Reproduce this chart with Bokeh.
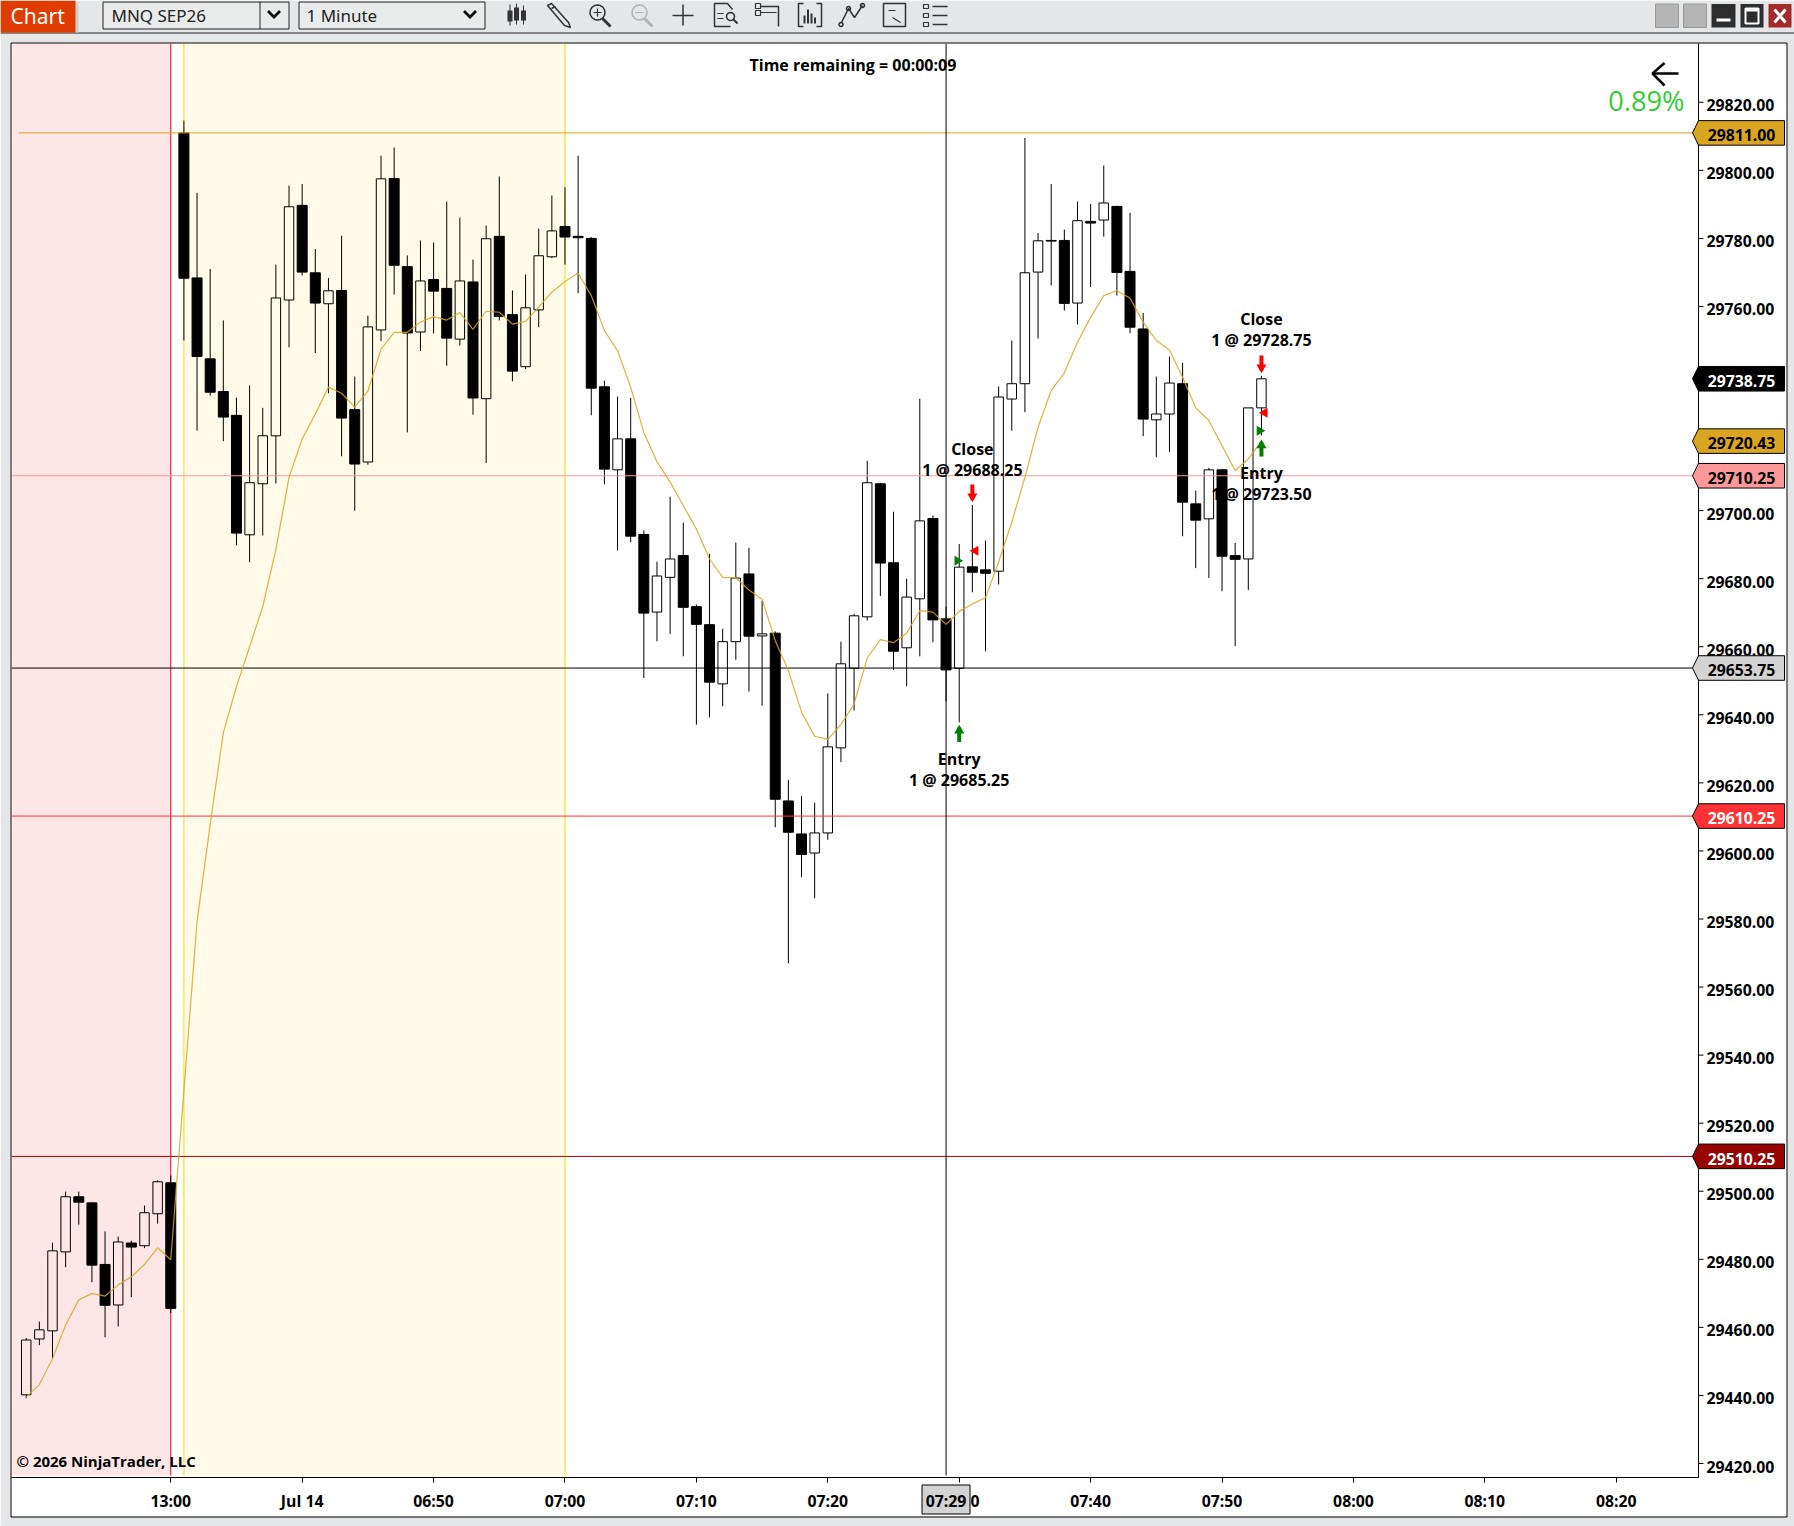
import math
import numpy as np
from bokeh.plotting import figure
from bokeh.embed import file_html
from bokeh.resources import INLINE
from bokeh.core.properties import value
from bokeh.models import FixedTicker, LinearAxis, NumeralTickFormatter, Range1d

# ---------- chart data ----------
opens = [29440.2,29456.6,29459.0,29482.2,29498.4,29496.6,29478.5,29466.6,29484.8,29484.0,29493.4,29502.5,
         29811.0,29768.4,29744.6,29735.0,29728.0,29692.9,29707.9,29722.0,29761.9,29789.7,29769.9,29760.8,
         29764.7,29729.7,29714.3,29753.1,29797.6,29771.7,29752.5,29767.9,29765.3,29750.4,29767.2,29732.9,
         29780.6,29757.6,29742.3,29759.0,29774.6,29783.5,29780.6,29780.0,29736.4,29712.0,29721.1,29693.0,
         29670.2,29680.4,29686.8,29671.8,29666.5,29649.1,29661.5,29681.4,29663.2,29664.0,29614.7,29605.0,
         29599.4,29605.3,29630.3,29653.7,29668.8,29707.9,29684.7,29659.7,29674.1,29697.7,29668.2,29653.7,
         29683.5,29682.6,29682.2,29732.8,29737.3,29770.1,29779.4,29779.4,29761.0,29785.0,29785.4,29789.4,
         29770.3,29753.4,29726.7,29728.4,29737.3,29702.0,29697.6,29712.0,29686.8,29685.8,29730.2]
highs = [29456.9,29461.7,29484.9,29499.9,29499.9,29496.7,29488.2,29486.7,29485.5,29495.8,29503.2,29504.6,
         29814.6,29793.4,29771.0,29755.9,29733.2,29736.8,29730.2,29772.3,29795.5,29796.0,29776.9,29768.4,
         29780.8,29739.4,29757.3,29804.3,29806.7,29775.0,29779.4,29778.8,29790.8,29786.1,29773.8,29783.8,
         29798.2,29764.7,29769.4,29782.9,29792.6,29795.0,29804.3,29780.4,29738.2,29733.5,29733.1,29694.2,
         29685.0,29704.1,29696.5,29672.4,29687.3,29665.3,29690.6,29689.1,29673.6,29664.5,29620.9,29616.2,
         29614.2,29646.3,29661.5,29669.7,29714.7,29708.2,29699.7,29680.0,29732.9,29698.6,29671.8,29690.2,
         29701.7,29691.2,29736.5,29750.0,29809.5,29781.6,29796.0,29782.6,29790.8,29790.1,29801.4,29789.6,
         29787.5,29758.1,29739.4,29745.3,29743.4,29705.9,29712.6,29712.2,29690.5,29730.2,29739.6]
lows = [29439.2,29454.8,29450.8,29477.7,29490.2,29473.3,29457.1,29460.3,29468.9,29483.3,29490.5,29464.2,
        29750.0,29723.5,29733.8,29720.4,29689.8,29684.9,29692.7,29708.0,29748.0,29769.1,29746.3,29734.5,
        29716.0,29700.0,29713.5,29749.8,29763.5,29723.0,29746.9,29752.1,29742.6,29748.5,29728.2,29714.0,
        29755.9,29738.0,29741.6,29753.9,29774.2,29772.3,29763.9,29728.0,29707.7,29688.3,29690.7,29650.8,
        29661.6,29663.8,29657.2,29637.1,29639.3,29642.5,29656.2,29646.8,29642.7,29607.0,29567.0,29592.3,
        29586.1,29603.3,29626.1,29641.3,29667.7,29674.9,29653.2,29648.4,29657.2,29661.3,29644.0,29637.8,
        29676.0,29658.7,29678.3,29723.5,29728.9,29750.6,29766.2,29758.8,29754.7,29765.7,29780.5,29763.2,
        29752.1,29721.9,29715.7,29717.2,29692.5,29683.1,29680.2,29676.3,29660.2,29676.7,29722.1]
closes = [29456.3,29459.3,29482.5,29498.4,29496.8,29478.3,29466.5,29485.1,29483.6,29493.7,29502.8,29465.6,
          29768.3,29745.3,29734.8,29727.5,29693.4,29708.2,29722.0,29762.5,29789.3,29770.1,29761.0,29764.6,
          29727.2,29713.7,29754.0,29797.5,29772.1,29752.2,29767.5,29764.5,29750.7,29767.5,29733.1,29779.9,
          29757.1,29741.0,29759.6,29774.9,29782.2,29780.4,29780.2,29736.0,29712.2,29721.1,29692.5,29669.9,
          29680.8,29685.8,29671.6,29666.6,29649.6,29661.5,29680.2,29663.1,29663.8,29615.2,29605.5,29599.0,
          29605.3,29630.6,29655.0,29669.1,29708.2,29684.6,29658.7,29674.6,29697.0,29667.9,29653.2,29683.4,
          29681.9,29681.6,29733.4,29737.3,29769.9,29779.3,29779.2,29760.9,29785.2,29784.5,29790.4,29770.0,
          29753.9,29726.9,29728.4,29737.5,29702.5,29697.2,29712.0,29686.6,29685.7,29730.2,29738.75]
ema = [29439.5,29443.2,29450.8,29460.7,29468.1,29470.0,29469.2,29472.5,29474.9,29478.5,29483.4,29479.9,
       29529.6,29579.3,29607.8,29634.8,29648.3,29660.0,29671.8,29688.6,29709.8,29721.1,29728.4,29736.3,
       29734.5,29730.4,29735.1,29747.5,29752.4,29752.4,29755.4,29757.0,29756.0,29758.2,29753.3,29758.6,
       29758.3,29754.8,29755.6,29759.8,29764.2,29767.3,29769.8,29763.2,29752.9,29747.0,29736.3,29723.0,
       29714.4,29708.4,29701.5,29694.6,29685.8,29680.4,29680.3,29676.7,29674.0,29661.8,29653.0,29640.8,
       29633.7,29632.8,29637.2,29643.2,29656.7,29662.1,29661.2,29664.0,29670.6,29670.2,29666.6,29670.4,
       29672.6,29674.4,29684.9,29696.6,29709.8,29724.5,29735.3,29740.5,29749.5,29756.8,29763.2,29764.7,
       29762.4,29755.4,29750.0,29747.2,29739.2,29730.2,29726.5,29719.1,29711.8,29715.2,29720.43]

y_ticks = [29420 + 20 * k for k in range(21)]
x_tick_pos = [11, 21, 31, 41, 51, 61, 71, 81, 91, 101, 111, 121]
x_tick_txt = ["13:00", "Jul 14", "06:50", "07:00", "07:10", "07:20", "07:30", "07:40", "07:50", "08:00", "08:10", "08:20"]

price_tags = [29811.00, 29738.75, 29720.43, 29710.25, 29653.75, 29610.25, 29510.25]
tag_fill = ["#DAA520", "#000000", "#DAA520", "#FF9999", "#D3D3D3", "#FF3333", "#990000"]
tag_text = ["#000000", "#FFFFFF", "#000000", "#000000", "#000000", "#FFFFFF", "#FFFFFF"]

line_prices = [29710.25, 29653.75, 29610.25, 29510.25]
line_colors = ["#FF9999", "#000000", "#FF3333", "#B00000"]

FONT = "Open Sans"
W, H = 1794, 1526
L, T, R, B = 11, 43, 1698, 1477

x = np.arange(len(opens))
o, h, l, c = map(np.array, (opens, highs, lows, closes))

p = figure(width=W, height=H, output_backend="svg", toolbar_location=None,
           x_range=Range1d(-1.12, 127.26), y_range=Range1d(29415.9, 29837.27),
           y_axis_location=None, tools="",
           min_border_left=L, min_border_top=T, min_border_right=W - R, min_border_bottom=H - B)
p.styles = {"position": "absolute", "left": "0px", "top": "0px"}
p.border_fill_color = "#FFFFFF"
p.background_fill_color = "#FFFFFF"
p.outline_line_color = None
p.grid.visible = False

# right axis: the labels sit slightly below their ticks, as in the reference
p.extra_y_ranges = {"labels": Range1d(29415.9 + 0.88, 29837.27 + 0.88)}
ax = LinearAxis(y_range_name="labels", ticker=FixedTicker(ticks=y_ticks),
                formatter=NumeralTickFormatter(format="0.00"), major_tick_out=0, major_tick_in=0,
                minor_tick_line_color=None, axis_line_color=None, major_tick_line_color=None,
                major_label_standoff=8, major_label_text_font=FONT, major_label_text_font_style="bold",
                major_label_text_font_size="15.8px", major_label_text_color="#000000")
p.add_layout(ax, "right")

bx = p.xaxis[0]
bx.ticker = FixedTicker(ticks=x_tick_pos)
bx.major_label_overrides = dict(zip(x_tick_pos, x_tick_txt))
bx.minor_tick_line_color = None
bx.major_tick_out = 5
bx.major_tick_in = 0
bx.major_label_standoff = 7
bx.major_label_text_font = FONT
bx.major_label_text_font_style = "bold"
bx.major_label_text_font_size = "15.8px"
bx.major_label_text_color = "#000000"
bx.axis_line_color = "#000000"
bx.major_tick_line_color = "#000000"

ybot = 29416.5
ytop = 29837.27
# session backgrounds
p.quad(left=[-1.12], right=[11], bottom=[ybot], top=[ytop], fill_color="#FFE6E6", line_color=None)
p.quad(left=[12], right=[41], bottom=[ybot], top=[ytop], fill_color="#FFFBE8", line_color=None)
p.segment([11], [ybot], [11], [ytop], line_color="#FF0000", line_width=1)
p.segment([12, 41], [ybot, ybot], [12, 41], [ytop, ytop], line_color="#FFD700", line_width=1)

# candles
body_hi = np.maximum(o, c)
body_lo = np.minimum(o, c)
p.segment(x, h, x, body_hi, line_color="#000000", line_width=1)
p.segment(x, l, x, body_lo, line_color="#000000", line_width=1)
up = c >= o
p.vbar(x=x[up], top=c[up], bottom=o[up], width=0.72, fill_alpha=0, line_color="#000000", line_width=1)
p.vbar(x=x[~up], top=o[~up], bottom=c[~up], width=0.76, fill_color="#000000", line_color="#000000", line_width=1)

# horizontal price lines and crosshair
p.segment([-0.55], [29811.0], [127.26], [29811.0], line_color="#DAA520", line_width=1)
for pr, col in zip(line_prices, line_colors):
    p.segment([-1.12], [pr], [127.26], [pr], line_color=col, line_width=1)
p.segment([70], [ybot], [70], [ytop], line_color="#000000", line_width=1)

# indicator
p.line(x, ema, line_color="#DAA520", line_alpha=0.85, line_width=1.2)

# trade markers
tr_x_g, tr_y_g = [70.86, 93.86], [29685.25, 29723.50]
tr_x_r, tr_y_r = [72.24, 94.24], [29688.25, 29728.75]
p.scatter(tr_x_g, tr_y_g, marker="triangle", angle=-math.pi / 2, size=10, fill_color="#008000", line_color=None)
p.scatter(tr_x_r, tr_y_r, marker="triangle", angle=math.pi / 2, size=10, fill_color="#FF0000", line_color=None)
# entry / exit arrows
up_x, up_tip, up_base = [71, 94], [29636.3, 29720.1], [29632.0, 29715.9]
dn_x, dn_tip, dn_base = [72, 94], [29703.3, 29741.2], [29707.7, 29745.6]
p.segment(up_x, up_tip, up_x, up_base, line_color="#008000", line_width=4)
p.segment(dn_x, dn_tip, dn_x, dn_base, line_color="#FF0000", line_width=4)
p.scatter(up_x, [v - 0.9 for v in up_tip], marker="triangle", size=10, fill_color="#008000", line_color=None)
p.scatter(dn_x, [v + 0.9 for v in dn_tip], marker="inverted_triangle", size=10, fill_color="#FF0000", line_color=None)
# trade labels
tx = [71, 71, 72, 72, 94, 94, 94, 94]
ty = [29627.1, 29620.9, 29718.2, 29711.8, 29756.3, 29750.0, 29711.1, 29705.0]
tt = ["Entry", "1 @ 29685.25", "Close", "1 @ 29688.25", "Close", "1 @ 29728.75", "Entry", "1 @ 29723.50"]
p.text(tx, ty, text=tt, text_align="center", text_baseline="middle", text_font=value(FONT),
       text_font_style="bold", text_font_size="16px", text_color="#000000")

# ---------- transparent layer over the whole window: frame, toolbar, price tags ----------
ov = figure(width=W, height=H, output_backend="svg", toolbar_location=None, tools="",
            x_range=Range1d(0, W), y_range=Range1d(H, 0),
            x_axis_location=None, y_axis_location=None,
            min_border=0, min_border_left=0, min_border_right=0, min_border_top=0, min_border_bottom=0)
ov.styles = {"position": "absolute", "left": "0px", "top": "0px", "pointer-events": "none"}
ov.background_fill_color = None
ov.border_fill_color = None
ov.outline_line_color = None
ov.grid.visible = False
# same price scale as the chart, stretched to the full window height
ov.extra_y_ranges = {"price": Range1d(29811 - (H - 132.4) * 0.29386, 29811 + 132.4 * 0.29386)}


def box(left, top, right, bottom, fill="#E4E6E8", line=None, lw=1):
    ov.quad(left=[left], right=[right], top=[top], bottom=[bottom],
            fill_color=fill, fill_alpha=1 if fill else 0,
            line_color=line, line_alpha=1 if line else 0, line_width=lw)


def poly(pts, fill=None, line=None, lw=1.5):
    ov.patch([q[0] for q in pts], [q[1] for q in pts],
             fill_color=fill, fill_alpha=1 if fill else 0,
             line_color=line, line_alpha=1 if line else 0, line_width=lw)


def stroke(pts, color="#333333", lw=1.5):
    ov.line([q[0] for q in pts], [q[1] for q in pts], line_color=color, line_width=lw)


def circle(cx, cy, r, color="#333333", lw=1.5):
    poly([(cx + r * math.cos(k * math.pi / 8), cy + r * math.sin(k * math.pi / 8)) for k in range(16)], None, color, lw)


def label(tx_, ty_, text, size, color="#000000", style="normal", font=FONT, align="left"):
    ov.text([tx_], [ty_], text=[text], text_font=value(font), text_font_size=size, text_font_style=style,
            text_color=color, text_align=align, text_baseline="middle")


GREY = "#E4E6E8"
box(0, 0, W, 42, GREY)
box(0, 1516, W, H, GREY)
box(0, 0, 10, H, GREY)
box(1787, 0, W, H, GREY)
box(0, 32, W, 33, "#222222")
box(10.5, 42.5, 1786.5, 1516.5, None, "#000000", 1)
box(75, 2, 78, 32, "#CDCFD1")
box(0, 0, 75, 32, "#E03C00")
label(10, 15, "Chart", "21px", "#FFFFFF", font="Noto Sans")
box(102.5, 1.5, 288.5, 28.5, "#E9EBEB", "#222222", 1)
box(259, 1.5, 260, 28.5, "#222222")
box(298.5, 1.5, 484.5, 28.5, "#E9EBEB", "#222222", 1)
label(111, 15, "MNQ SEP26", "17px", "#222222", font="Noto Sans")
label(306, 15, "1 Minute", "17px", "#222222", font="Noto Sans")
for cx in (273.5, 469.5):
    poly([(cx - 7, 11.5), (cx - 5, 9.5), (cx, 14.5), (cx + 5, 9.5), (cx + 7, 11.5), (cx, 18.5)], "#111111")

# toolbar icons
for (a, t_, b_, wt, wb) in [(507, 10, 21, 4, 25), (513.5, 7, 20, 3, 24), (520.5, 10, 20, 5, 24)]:
    box(a, t_, a + 5, b_, "#333333")
    box(a + 2, wt, a + 3, wb, "#333333")
poly([(547, 5), (551, 3), (568, 22), (570, 27), (564, 25)], None, "#333333", 1.5)
stroke([(551, 8), (555, 6)], "#333333", 1.5)
circle(597, 12, 7.5)
stroke([(602, 18), (610, 26)], "#333333", 3)
stroke([(593, 12), (601, 12)], "#333333", 1.2)
stroke([(597, 8), (597, 16)], "#333333", 1.2)
circle(639, 12, 7.5, "#B0B4B6")
stroke([(644, 18), (652, 26)], "#B0B4B6", 3)
stroke([(635, 12), (643, 12)], "#B0B4B6", 1.2)
stroke([(672, 15), (693, 15)], "#333333", 1.5)
stroke([(682.5, 4), (682.5, 25)], "#333333", 1.5)
stroke([(732, 9), (727, 3), (714, 3), (714, 26), (730, 26)], "#333333", 1.5)
circle(730, 16, 4)
stroke([(733, 19), (737, 23)], "#333333", 2)
stroke([(717, 13), (723, 13)], "#333333", 1.2)
stroke([(717, 18), (723, 18)], "#333333", 1.2)
stroke([(760, 6), (778, 6), (778, 26)], "#333333", 1.5)
poly([(755, 3), (760, 3), (760, 8), (755, 8)], None, "#333333", 1.2)
poly([(755, 10), (760, 10), (760, 15), (755, 15)], None, "#333333", 1.2)
stroke([(760, 12), (776, 12)], "#333333", 1.2)
stroke([(803, 3), (798, 3), (798, 26), (803, 26)], "#333333", 1.5)
stroke([(816, 3), (821, 3), (821, 26), (816, 26)], "#333333", 1.5)
for (xa, ta) in [(803, 15), (806.5, 9), (810, 13), (813.5, 17)]:
    box(xa, ta, xa + 2, 23, "#333333")
stroke([(841, 22), (848, 8), (854, 17), (862, 5)], "#333333", 1.5)
circle(840.5, 24, 2)
circle(848, 8, 2)
circle(862, 5, 2)
poly([(883, 3), (905, 3), (905, 26), (883, 26)], None, "#333333", 1.5)
stroke([(888, 10), (895, 10)], "#333333", 1.2)
stroke([(892, 17), (900, 22)], "#333333", 1.2)
for yy in (6, 15, 24):
    poly([(923, yy - 2), (928, yy - 2), (928, yy + 2), (923, yy + 2)], None, "#333333", 1.2)
    box(932, yy - 0.7, 947, yy + 0.7, "#333333")

# window buttons
box(1655, 3.5, 1678, 27, "#B4B4B4", "#999999")
box(1683, 3.5, 1706, 27, "#B4B4B4", "#999999")
box(1711, 3.5, 1735, 27, "#2E2E2E")
box(1716, 18, 1730, 21, "#FFFFFF")
box(1740, 3.5, 1763, 27, "#2E2E2E")
box(1745, 8, 1758, 23, None, "#FFFFFF", 2)
box(1745, 8, 1758, 11, "#FFFFFF")
box(1768, 3.5, 1791, 27, "#A52A2A")
stroke([(1774, 9), (1785, 22)], "#FFFFFF", 3)
stroke([(1785, 9), (1774, 22)], "#FFFFFF", 3)

# price-axis line and its ticks
box(1697.5, 43, 1698.5, 1477, "#000000")
ov.segment([1698] * len(y_ticks), y_ticks, [1703] * len(y_ticks), y_ticks, y_range_name="price",
           line_color="#000000", line_width=1)

# price tags on the axis
half = 3.61
for pr, fc, tc in zip(price_tags, tag_fill, tag_text):
    ov.patch([1692, 1698, 1784, 1784, 1698], [pr, pr + half, pr + half, pr - half, pr - half],
             y_range_name="price", fill_color=fc, line_color="#000000", line_width=1)
    ov.text([1741], [pr - 0.7], text=[f"{pr:.2f}"], y_range_name="price", text_font=value(FONT),
            text_font_style="bold", text_font_size="15.8px", text_color=tc,
            text_align="center", text_baseline="middle")

# crosshair time box
box(921.5, 1484.5, 969.5, 1513.5, "#D3D3D3", "#000000", 1)
label(945.5, 1500, "07:29", "15.8px", "#000000", "bold", align="center")

# chart texts
label(749, 64, "Time remaining = 00:00:09", "16px", "#000000", "bold")
label(16, 1460.5, "\u00a9 2026 NinjaTrader, LLC", "15px", "#000000", "bold")
label(1684, 99.5, "0.89%", "27.2px", "#32CD32", align="right")
stroke([(1664, 62.5), (1652, 73), (1664, 85)], "#000000", 2.5)
stroke([(1653, 73), (1678, 73)], "#000000", 2.5)

open("out.html", "w").write(file_html([p, ov], INLINE))
